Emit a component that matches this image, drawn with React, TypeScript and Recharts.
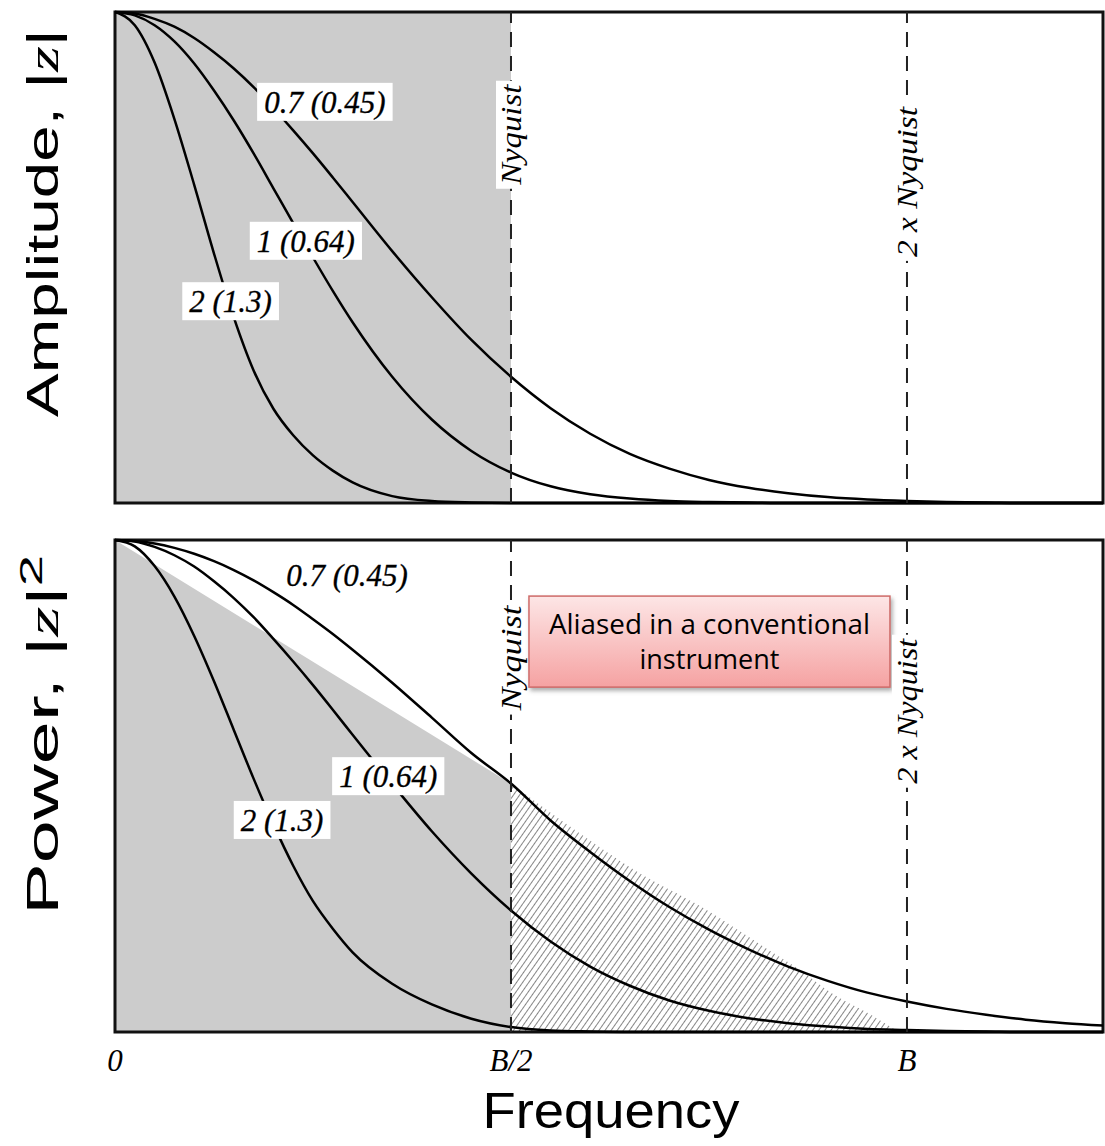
import {
  Area,
  ComposedChart,
  Line,
  ReferenceArea,
  ReferenceDot,
  ReferenceLine,
  XAxis,
  YAxis,
} from 'recharts';

// Frequency grid, in units of the sampling bandwidth B.
const freq = [
  0, 0.025, 0.05, 0.075, 0.1, 0.125, 0.15, 0.175, 0.2, 0.225, 0.25, 0.275, 0.3,
  0.35, 0.4, 0.45, 0.5, 0.55, 0.6, 0.65, 0.7, 0.75, 0.8, 0.85, 0.9, 0.95, 1.0,
  1.05, 1.1, 1.15, 1.2, 1.25,
];

// Amplitude |z| for the three pixel sizes.
const ampSize07 = [
  1, 0.997, 0.986, 0.97, 0.947, 0.918, 0.885, 0.847, 0.804, 0.759, 0.712, 0.663,
  0.613, 0.513, 0.419, 0.332, 0.257, 0.193, 0.141, 0.1, 0.07, 0.047, 0.031, 0.02,
  0.012, 0.007, 0.004, 0.002, 0.001, 0, 0, 0,
];
const ampSize1 = [
  1, 0.993, 0.973, 0.94, 0.895, 0.84, 0.779, 0.712, 0.641, 0.57, 0.5, 0.432,
  0.368, 0.257, 0.17, 0.106, 0.062, 0.034, 0.018, 0.009, 0.004, 0.002, 0.001, 0,
  0, 0, 0, 0, 0, 0, 0, 0,
];
const ampSize2 = [
  1, 0.973, 0.897, 0.782, 0.648, 0.508, 0.378, 0.27, 0.192, 0.138, 0.097, 0.066,
  0.042, 0.014, 0.004, 0.001, 0, 0, 0, 0, 0, 0, 0, 0, 0, 0, 0, 0, 0, 0, 0, 0,
];

// Power |z|^2 for the same sizes.
const powSize07 = [
  1, 0.998, 0.993, 0.984, 0.972, 0.957, 0.939, 0.918, 0.894, 0.868, 0.839, 0.809,
  0.777, 0.71, 0.639, 0.567, 0.505, 0.43, 0.366, 0.307, 0.254, 0.208, 0.168,
  0.133, 0.104, 0.08, 0.062, 0.047, 0.035, 0.025, 0.018, 0.013,
];
const powSize1 = [
  1, 0.997, 0.986, 0.969, 0.946, 0.916, 0.882, 0.843, 0.799, 0.753, 0.705, 0.655,
  0.604, 0.504, 0.408, 0.322, 0.247, 0.184, 0.133, 0.094, 0.064, 0.043, 0.028,
  0.018, 0.011, 0.006, 0.004, 0.002, 0.001, 0, 0, 0,
];
const powSize2 = [
  1, 0.987, 0.947, 0.885, 0.805, 0.713, 0.614, 0.515, 0.422, 0.338, 0.266, 0.21,
  0.162, 0.098, 0.056, 0.027, 0.01, 0.003, 0.001, 0, 0, 0, 0, 0, 0, 0, 0, 0, 0,
  0, 0, 0,
];

// Sampled band in the power panel: straight edge from DC to the Nyquist point.
const sampledEdge = [
  { f: 0, v: 1 },
  { f: 0.5, v: 0.505 },
];

// Power above Nyquist that folds back (hatched).
const aliasedEdge = [
  { f: 0.5, v: 0.505 },
  { f: 0.575, v: 0.417 },
  { f: 0.66, v: 0.325 },
  { f: 0.745, v: 0.25 },
  { f: 0.825, v: 0.167 },
  { f: 0.865, v: 0.126 },
  { f: 0.905, v: 0.079 },
  { f: 0.95, v: 0.039 },
  { f: 0.99, v: 0 },
];

const tickValues = [0, 0.5, 1];
const tickNames = ['0', 'B/2', 'B'];

const ampTags = [
  { text: '0.7 (0.45)', f: 0.265, v: 0.817, boxed: true },
  { text: '1 (0.64)', f: 0.241, v: 0.534, boxed: true },
  { text: '2 (1.3)', f: 0.146, v: 0.411, boxed: true },
];
const powTags = [
  { text: '0.7 (0.45)', f: 0.293, v: 0.929, boxed: false },
  { text: '1 (0.64)', f: 0.345, v: 0.52, boxed: true },
  { text: '2 (1.3)', f: 0.211, v: 0.431, boxed: true },
];

const noteLines = ['Aliased in a conventional', 'instrument'];
const noteBox = { x1: 0.5227, x2: 0.9785, y1: 0.701, y2: 0.886 };

const ampRows = freq.map((f, i) => ({
  f,
  s07: ampSize07[i],
  s1: ampSize1[i],
  s2: ampSize2[i],
}));
const powRows = freq.map((f, i) => ({
  f,
  s07: powSize07[i],
  s1: powSize1[i],
  s2: powSize2[i],
}));

const X_MAX = 1.2475;
const SERIF = '"Liberation Serif", "Times New Roman", serif';
const SANS = '"Liberation Sans", Arial, sans-serif';
const GRAY = '#cccccc';

// rough advance widths for italic serif at 31px
function tagWidth(text: string) {
  let w = 0;
  for (const ch of text) {
    if (ch >= '0' && ch <= '9') w += 15.5;
    else if (ch === '(' || ch === ')') w += 10.3;
    else w += 7.8;
  }
  return w;
}

function CurveTag(props: any) {
  const { cx, cy, text, boxed } = props;
  const w = tagWidth(text) + 14;
  return (
    <g>
      {boxed && <rect x={cx - w / 2} y={cy - 19} width={w} height={38} fill="#fff" />}
      <text
        x={cx}
        y={cy}
        dy="0.36em"
        textAnchor="middle"
        fontFamily={SERIF}
        fontStyle="italic"
        fontSize={31}
        stroke="#000"
        strokeWidth={0.3}
        fill="#000"
      >
        {text}
      </text>
    </g>
  );
}

function NyquistTag(props: any) {
  const { viewBox, text, at, len } = props;
  if (!viewBox) return null;
  const x = viewBox.x;
  const cy = viewBox.y + viewBox.height * at;
  return (
    <g transform={`translate(${x},${cy}) rotate(-90)`}>
      <rect x={-len / 2 - 4} y={-15} width={len + 8} height={29} fill="#fff" />
      <text
        x={0}
        y={0}
        dy="0.32em"
        textAnchor="middle"
        fontFamily={SERIF}
        fontStyle="italic"
        fontSize={30}
        textLength={len}
        lengthAdjust="spacingAndGlyphs"
        fill="#000"
      >
        {text}
      </text>
    </g>
  );
}

function SideTitle(props: any) {
  const { viewBox, at, len, power } = props;
  if (!viewBox) return null;
  const cy = viewBox.y + viewBox.height * at;
  return (
    <text
      transform={`translate(58,${cy}) rotate(-90)`}
      textAnchor="middle"
      fontFamily={SANS}
      fontSize={44}
      textLength={len}
      lengthAdjust="spacingAndGlyphs"
      fill="#000"
    >
      {power ? 'Power, |' : 'Amplitude, |'}
      <tspan fontStyle="italic" fontFamily={SERIF}>z</tspan>
      {'|'}
      {power && (
        <tspan dy={-16} fontSize={32}>
          2
        </tspan>
      )}
    </text>
  );
}

function FreqTick(props: any) {
  const { x, y, payload } = props;
  const idx = tickValues.indexOf(payload.value);
  return (
    <text
      x={x}
      y={y}
      dy={39}
      textAnchor="middle"
      fontFamily={SERIF}
      fontStyle="italic"
      fontSize={31}
      fill="#000"
    >
      {tickNames[idx]}
    </text>
  );
}

function FreqTitle(props: any) {
  const { viewBox } = props;
  if (!viewBox) return null;
  return (
    <text
      x={viewBox.x + viewBox.width / 2 + 2}
      y={viewBox.y + 96}
      textAnchor="middle"
      fontFamily={SANS}
      fontSize={50}
      textLength={257}
      lengthAdjust="spacingAndGlyphs"
      fill="#000"
    >
      Frequency
    </text>
  );
}

function AliasNote(props: any) {
  const { x, y, width, height } = props;
  return (
    <g>
      <rect
        x={x}
        y={y}
        width={width}
        height={height}
        fill="url(#aliasFill)"
        stroke="#cf6b69"
        strokeWidth={1.5}
        filter="url(#aliasShadow)"
      />
      {noteLines.map((line, i) => (
        <text
          key={line}
          x={x + width / 2}
          y={y + height * (i === 0 ? 0.42 : 0.8)}
          textAnchor="middle"
          fontFamily='"Open Sans", "Noto Sans", sans-serif'
          fontSize={27}
          textLength={i === 0 ? 321 : 140}
          lengthAdjust="spacingAndGlyphs"
          fill="#000"
        >
          {line}
        </text>
      ))}
    </g>
  );
}

const curveProps = {
  type: 'monotone' as const,
  stroke: '#000',
  strokeWidth: 2.5,
  dot: false,
  activeDot: false,
  isAnimationActive: false,
};

function Frame() {
  return (
    <ReferenceArea
      x1={0}
      x2={X_MAX}
      y1={0}
      y2={1}
      fill="none"
      stroke="#111"
      strokeWidth={3}
      ifOverflow="visible"
    />
  );
}

export default function App() {
  return (
    <div style={{ position: 'absolute', left: 0, top: 0, width: 1105, height: 1146, background: '#fff' }}>
      <ComposedChart
        width={1105}
        height={520}
        data={ampRows}
        margin={{ top: 12, right: 2, bottom: 17, left: 0 }}
      >
        <XAxis type="number" dataKey="f" domain={[0, X_MAX]} allowDataOverflow hide />
        <YAxis
          type="number"
          domain={[0, 1]}
          width={115}
          tick={false}
          axisLine={false}
          tickLine={false}
          label={<SideTitle at={0.43} len={388} />}
        />
        <ReferenceArea x1={0} x2={0.5} fill={GRAY} fillOpacity={1} stroke="none" />
        <Line {...curveProps} dataKey="s07" />
        <Line {...curveProps} dataKey="s1" />
        <Line {...curveProps} dataKey="s2" />
        <ReferenceLine
          x={0.5}
          stroke="#222"
          strokeWidth={2}
          strokeDasharray="15 9"
          label={<NyquistTag text="Nyquist" at={0.25} len={100} />}
        />
        <ReferenceLine
          x={1}
          stroke="#222"
          strokeWidth={2}
          strokeDasharray="15 9"
          label={<NyquistTag text="2 x Nyquist" at={0.346} len={150} />}
        />
        {ampTags.map((t) => (
          <ReferenceDot
            key={t.text}
            x={t.f}
            y={t.v}
            r={0}
            shape={(p: any) => <CurveTag cx={p.cx} cy={p.cy} text={t.text} boxed={t.boxed} />}
          />
        ))}
        {Frame()}
      </ComposedChart>

      <ComposedChart
        width={1105}
        height={621}
        data={powRows}
        margin={{ top: 15, right: 2, bottom: 14, left: 0 }}
        style={{ position: 'absolute', left: 0, top: 525 }}
      >
        <defs>
          <pattern
            id="hatch"
            width={5}
            height={5}
            patternUnits="userSpaceOnUse"
            patternTransform="rotate(35)"
          >
            <line x1={0} y1={0} x2={0} y2={5} stroke="#333" strokeWidth={1.2} />
          </pattern>
          <linearGradient id="aliasFill" x1="0" y1="0" x2="0" y2="1">
            <stop offset="0%" stopColor="#fde6e6" />
            <stop offset="100%" stopColor="#f5a2a2" />
          </linearGradient>
          <filter id="aliasShadow" x="-10%" y="-10%" width="120%" height="130%">
            <feDropShadow dx={2} dy={3} stdDeviation={2} floodColor="#777" floodOpacity={0.6} />
          </filter>
        </defs>
        <XAxis
          type="number"
          dataKey="f"
          domain={[0, X_MAX]}
          allowDataOverflow
          ticks={tickValues}
          tick={<FreqTick />}
          tickSize={0}
          tickMargin={0}
          axisLine={false}
          tickLine={false}
          height={100}
          label={<FreqTitle />}
        />
        <YAxis
          type="number"
          domain={[0, 1]}
          width={115}
          tick={false}
          axisLine={false}
          tickLine={false}
          label={<SideTitle at={0.396} len={360} power />}
        />
        <Area
          data={sampledEdge}
          dataKey="v"
          type="linear"
          fill={GRAY}
          fillOpacity={1}
          stroke="none"
          isAnimationActive={false}
        />
        <Area
          data={aliasedEdge}
          dataKey="v"
          type="monotone"
          fill="url(#hatch)"
          fillOpacity={1}
          stroke="none"
          isAnimationActive={false}
        />
        <Line {...curveProps} dataKey="s07" />
        <Line {...curveProps} dataKey="s1" />
        <Line {...curveProps} dataKey="s2" />
        <ReferenceLine
          x={0.5}
          stroke="#222"
          strokeWidth={2}
          strokeDasharray="15 9"
          label={<NyquistTag text="Nyquist" at={0.24} len={105} />}
        />
        <ReferenceLine
          x={1}
          stroke="#222"
          strokeWidth={2}
          strokeDasharray="15 9"
          label={<NyquistTag text="2 x Nyquist" at={0.348} len={145} />}
        />
        <ReferenceArea
          x1={noteBox.x1}
          x2={noteBox.x2}
          y1={noteBox.y1}
          y2={noteBox.y2}
          shape={(p: any) => <AliasNote {...p} />}
        />
        {powTags.map((t) => (
          <ReferenceDot
            key={t.text}
            x={t.f}
            y={t.v}
            r={0}
            shape={(p: any) => <CurveTag cx={p.cx} cy={p.cy} text={t.text} boxed={t.boxed} />}
          />
        ))}
        {Frame()}
      </ComposedChart>
    </div>
  );
}
